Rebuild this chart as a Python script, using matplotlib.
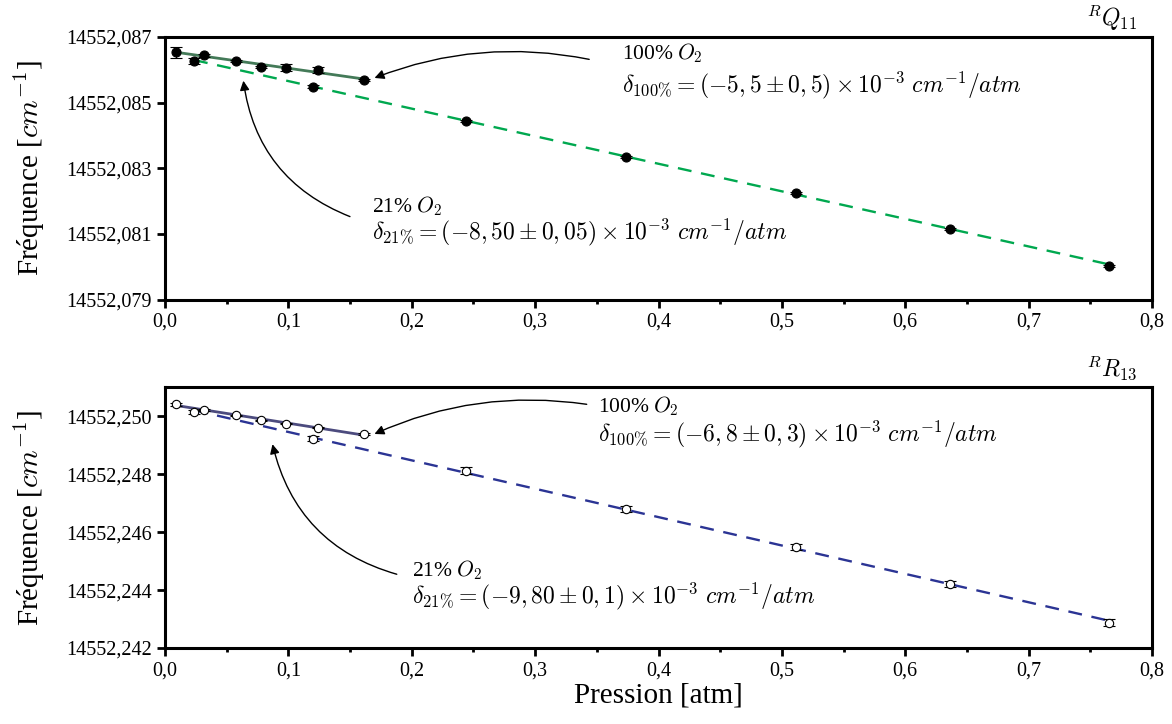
import numpy as np
import matplotlib
matplotlib.use("Agg")
import matplotlib.pyplot as plt
from matplotlib.ticker import FuncFormatter, MultipleLocator, FixedLocator

plt.rcParams['font.family'] = 'serif'
plt.rcParams['font.serif'] = ['Liberation Serif', 'DejaVu Serif']
plt.rcParams['mathtext.fontset'] = 'cm'
plt.rcParams['lines.scale_dashes'] = False

# Données : raie RQ11 (haut)
p_100 = [0.009, 0.0316, 0.0575, 0.078, 0.098, 0.124, 0.161]
p_21 = [0.0235, 0.120, 0.244, 0.374, 0.511, 0.636, 0.765]

q11_100 = [14552.086535, 14552.086444, 14552.086261, 14552.086079,
           14552.086067, 14552.086006, 14552.085684]
q11_100_err = [0.00017, 0.00005, 0.00003, 0.00004, 0.00011, 0.00009, 0.00003]
q11_21 = [14552.086280, 14552.085489, 14552.084447, 14552.083353,
          14552.082258, 14552.081164, 14552.080040]
q11_21_err = [0.00009, 0.00004, 0.00003, 0.00003, 0.00003, 0.00003, 0.00003]
q11_ticks = [14552.079, 14552.081, 14552.083, 14552.085, 14552.087]

# Données : raie RR13 (bas)
r13_100 = [14552.250422, 14552.250225, 14552.250028, 14552.249855,
           14552.249751, 14552.249613, 14552.249385]
r13_100_err = [0.00005, 0.00004, 0.00003, 0.00003, 0.00003, 0.00003, 0.00003]
r13_21 = [14552.250155, 14552.249223, 14552.248117, 14552.246804,
          14552.245491, 14552.244212, 14552.242865]
r13_21_err = [0.00007, 0.00009, 0.00012, 0.00011, 0.00011, 0.00011, 0.00012]
r13_ticks = [14552.242, 14552.244, 14552.246, 14552.248, 14552.250]


def fmt_x(v, pos):
    return f"{v:.1f}".replace('.', ',')


def fmt_y(v, pos):
    return f"{v:.3f}".replace('.', ',')


def draw_panel(ax, y100, e100, y21, e21, yticks, c_solid, c_dash, filled):
    # droites de régression
    a, b = np.polyfit(p_100, y100, 1)
    xs = np.array([min(p_100), max(p_100)])
    ax.plot(xs, a * xs + b, '-', color=c_solid, lw=2.0, zorder=2)
    a, b = np.polyfit(p_21, y21, 1)
    xs = np.array([min(p_21), max(p_21)])
    ax.plot(xs, a * xs + b, color=c_dash, lw=1.7, dashes=(10, 7), zorder=2)

    face = 'black' if filled else 'white'
    for px, y, e in ((p_100, y100, e100), (p_21, y21, e21)):
        ax.errorbar(px, y, yerr=e, fmt='o',
                    ms=6.5 if filled else 6, mfc=face, mec='black', mew=0.8,
                    ecolor='black', elinewidth=0.8, capsize=4, capthick=0.8,
                    zorder=3)

    ax.set_xlim(0, 0.8)
    ax.xaxis.set_major_locator(MultipleLocator(0.1))
    ax.xaxis.set_minor_locator(MultipleLocator(0.05))
    ax.xaxis.set_major_formatter(FuncFormatter(fmt_x))
    ax.yaxis.set_major_locator(FixedLocator(yticks))
    ax.yaxis.set_major_formatter(FuncFormatter(fmt_y))
    ax.tick_params(axis='both', which='major', direction='out', length=6,
                   width=2, labelsize=14.5)
    ax.tick_params(axis='x', which='minor', direction='out', length=3, width=2)
    for s in ax.spines.values():
        s.set_linewidth(2.2)
    ax.set_ylabel(r"Fréquence [$cm^{-1}$]", fontsize=21, labelpad=14)


fig = plt.figure(figsize=(11.72, 7.24), dpi=100)
ax1 = fig.add_axes([0.1408, 0.586, 0.8422, 0.363])
ax2 = fig.add_axes([0.1408, 0.105, 0.8422, 0.360])

draw_panel(ax1, q11_100, q11_100_err, q11_21, q11_21_err, q11_ticks,
           '#447a58', '#00a84f', True)
ax1.set_ylim(14552.079, 14552.087)

draw_panel(ax2, r13_100, r13_100_err, r13_21, r13_21_err, r13_ticks,
           '#4c4b7e', '#2b3494', False)
ax2.set_ylim(14552.242, 14552.251)
ax2.set_xlabel("Pression [atm]", fontsize=21, labelpad=2)

ax1.text(0.985, 1.015, r"$^{R}Q_{11}$", transform=ax1.transAxes,
         ha='right', va='bottom', fontsize=17)
ax2.text(0.985, 1.015, r"$^{R}R_{13}$", transform=ax2.transAxes,
         ha='right', va='bottom', fontsize=17)

lab = dict(fontsize=15.5, ha='left', va='center')
txt = dict(fontsize=17, ha='left', va='center')
arrow = dict(arrowstyle='-|>', color='black', lw=1.0, mutation_scale=14)

# annotations du haut
ax1.text(0.370, 14552.08650, r"100% $O_2$", **lab)
ax1.text(0.370, 14552.08552,
         r"$\delta_{100\%} = (-5,5 \pm 0,5) \times 10^{-3}\ cm^{-1}/atm$", **txt)
ax1.annotate("", xy=(0.1677, 14552.08572), xytext=(0.346, 14552.0863),
             arrowprops=dict(connectionstyle='arc3,rad=0.15', **arrow))
ax1.text(0.1677, 14552.08186, r"21% $O_2$", **lab)
ax1.text(0.1677, 14552.08104,
         r"$\delta_{21\%} = (-8,50 \pm 0,05) \times 10^{-3}\ cm^{-1}/atm$", **txt)
ax1.annotate("", xy=(0.0632, 14552.08575), xytext=(0.152, 14552.0815),
             arrowprops=dict(connectionstyle='arc3,rad=-0.3', **arrow))

# annotations du bas
ax2.text(0.351, 14552.25035, r"100% $O_2$", **lab)
ax2.text(0.351, 14552.24938,
         r"$\delta_{100\%} = (-6,8 \pm 0,3) \times 10^{-3}\ cm^{-1}/atm$", **txt)
ax2.annotate("", xy=(0.1677, 14552.24935), xytext=(0.344, 14552.2504),
             arrowprops=dict(connectionstyle='arc3,rad=0.15', **arrow))
ax2.text(0.200, 14552.24470, r"21% $O_2$", **lab)
ax2.text(0.200, 14552.24378,
         r"$\delta_{21\%} = (-9,80 \pm 0,1) \times 10^{-3}\ cm^{-1}/atm$", **txt)
ax2.annotate("", xy=(0.0866, 14552.24913), xytext=(0.190, 14552.24452),
             arrowprops=dict(connectionstyle='arc3,rad=-0.3', **arrow))

fig.align_ylabels([ax1, ax2])
fig.savefig("out.png", dpi=100)
